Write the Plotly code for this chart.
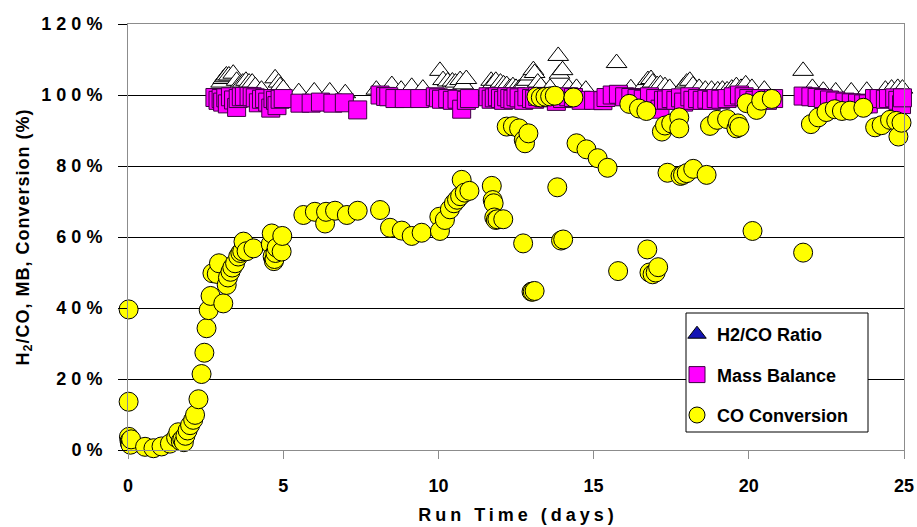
import plotly.graph_objects as go

# ---------------- data ----------------
co_days = [0.02, 0.02, 0.03, 0.05, 0.06, 0.08, 0.10,
           0.55, 0.82, 1.08, 1.35, 1.55, 1.62, 1.70, 1.75, 1.80, 1.85, 1.92, 2.00,
           2.10, 2.16, 2.27, 2.37, 2.46, 2.53, 2.60, 2.66, 2.72, 2.86, 2.93,
           3.07, 3.18, 3.22, 3.30, 3.36, 3.45, 3.55, 3.62, 3.68, 3.72, 3.82, 4.04,
           4.60, 4.63, 4.66, 4.70, 4.72, 4.75, 4.79, 4.95, 4.97,
           5.65, 6.02, 6.35, 6.38, 6.67, 7.05, 7.40, 8.12, 8.44, 8.82, 9.14, 9.46,
           10.03, 10.05, 10.21, 10.37, 10.50, 10.60, 10.70, 10.75, 10.85, 11.00,
           11.72, 11.75, 11.78, 11.80, 11.85, 11.90, 12.09,
           12.20, 12.40, 12.60, 12.75, 12.79, 12.90, 12.73, 13.00, 13.04, 13.10,
           13.16, 13.30, 13.45, 13.60, 13.75, 14.35,
           13.83, 13.95, 14.02, 14.45, 14.77, 15.13, 15.45, 15.79,
           16.15, 16.46, 16.70, 16.73, 16.80, 16.90, 17.00, 17.08,
           17.20, 17.30, 17.50, 17.76, 17.76, 17.38, 17.80, 17.88, 18.00, 18.21, 18.64,
           18.75, 18.98, 19.30, 19.60, 19.65, 19.70, 19.93, 20.12, 20.25, 20.40, 20.74, 21.75,
           22.00, 22.24, 22.50, 22.77, 23.00, 23.26, 23.69, 24.07, 24.28, 24.55, 24.75, 24.82, 24.92]
co_pct = [39.6, 13.6, 3.7, 2.5, 2.0, 1.5, 3.0,
          0.9, 0.5, 1.0, 1.8, 3.5, 5.0, 2.5, 3.0, 2.2, 4.0, 5.5, 7.0,
          8.5, 9.9, 14.3, 21.4, 27.4, 34.3, 39.4, 43.4, 49.8, 49.6, 52.6,
          41.3, 46.5, 48.6, 50.2, 51.4, 52.6, 54.5, 55.5, 56.0, 58.7, 56.0, 56.8,
          58.0, 61.0, 54.5, 53.2, 53.8, 55.5, 57.0, 55.9, 60.3,
          66.2, 67.1, 63.8, 67.1, 67.4, 66.2, 67.4, 67.6, 62.6, 61.8, 60.3, 61.2,
          65.7, 61.7, 64.8, 67.8, 69.5, 70.5, 71.5, 76.1, 72.5, 73.0,
          74.4, 70.4, 69.5, 65.5, 64.8, 65.0, 65.0,
          91.1, 91.2, 90.6, 87.3, 86.4, 89.2, 58.2, 44.6, 44.6, 44.8,
          99.5, 99.3, 99.5, 99.6, 99.8, 99.3,
          74.0, 59.0, 59.3, 86.4, 84.7, 82.2, 79.5, 50.4,
          97.5, 96.2, 95.5, 56.5, 50.0, 49.5, 50.0, 51.5,
          89.7, 91.4, 92.0, 93.7, 90.6, 78.1, 77.2, 77.5, 78.0, 79.2, 77.5,
          91.3, 93.0, 93.2, 90.6, 92.0, 91.0, 97.7, 61.7, 95.8, 98.4, 98.9, 55.6,
          91.8, 93.7, 95.2, 96.0, 95.5, 95.6, 96.4, 90.9, 91.5, 93.0, 92.7, 88.3, 92.2]

mb_days = [2.80, 2.90, 3.00, 3.05, 3.15, 3.20, 3.30, 3.40, 3.50, 3.55, 3.65, 3.75, 3.90,
           4.00, 4.10, 4.20, 4.30, 4.40, 4.50, 4.60, 4.67, 4.75, 4.80, 4.90, 5.00,
           5.54, 5.90, 6.20, 6.60, 6.97, 7.40,
           8.12, 8.30, 8.40, 8.60, 8.90, 9.40, 9.90, 10.00, 10.10, 10.30, 10.45, 10.60,
           10.75, 10.90, 11.00, 11.60, 11.70, 11.80, 11.90, 12.00, 12.10, 12.20, 12.30,
           12.40, 12.50, 12.60, 12.75, 12.85, 13.00, 13.10, 13.20, 13.40, 13.60, 13.80,
           14.00, 14.20, 14.35, 14.60, 15.00, 15.30, 15.40, 15.60, 15.80, 16.00, 16.20,
           16.40, 16.60, 16.80, 17.00, 17.14, 17.25, 17.35, 17.50, 17.65, 17.80, 17.90,
           18.10, 18.20, 18.35, 18.50, 18.65, 18.80, 18.95, 19.10, 19.30, 19.50, 19.70,
           19.85, 20.00, 20.20, 20.40, 20.60, 20.80,
           21.75, 22.00, 22.20, 22.40, 22.60, 22.80, 23.10, 23.30, 23.50, 23.70, 23.85,
           24.05, 24.20, 24.40, 24.50, 24.70, 24.80, 24.92, 24.95]
mb_pct = [99.3, 98.5, 99.0, 98.0, 99.2, 97.5, 99.5, 98.6, 96.5, 99.0, 99.5, 99.6, 99.6,
          99.5, 99.2, 97.8, 98.8, 99.0, 98.0, 96.3, 99.0, 98.5, 97.0, 98.8, 99.0,
          97.7, 97.7, 98.0, 97.7, 97.8, 95.8,
          100.0, 99.6, 99.5, 99.0, 99.0, 99.0, 99.5, 99.2, 98.8, 99.0, 98.5, 98.8,
          96.0, 98.5, 99.0, 99.5, 98.8, 99.2, 99.5, 99.0, 98.5, 99.5, 99.0,
          98.8, 99.5, 99.2, 98.5, 99.5, 99.0, 98.8, 99.6, 99.2, 99.5, 98.2,
          99.0, 99.5, 99.3, 98.5, 98.5, 98.4, 99.3, 100.0, 100.2, 99.5, 99.3,
          99.0, 98.8, 99.5, 99.0, 96.0, 98.5, 98.6, 99.0, 98.5, 99.2, 98.0,
          99.5, 98.5, 99.0, 98.5, 98.8, 98.5, 99.0, 98.8, 99.0, 99.5, 100.0,
          99.5, 99.0, 98.5, 99.0, 98.5, 99.0,
          99.7, 99.5, 99.3, 99.0, 98.6, 98.3, 98.0, 97.8, 97.7, 97.5, 97.5,
          99.0, 99.0, 98.8, 99.0, 99.2, 98.5, 97.3, 99.2]

h2_days = [3.00, 3.07, 3.12, 3.17, 3.25, 3.39, 3.50, 3.60, 3.70, 3.80, 3.90, 4.00, 4.10,
           4.30, 4.74, 4.85, 4.90, 5.00, 5.50, 6.00, 6.50, 7.00,
           8.00, 8.50, 8.80, 9.14, 9.50, 10.05, 10.15, 10.30, 10.45, 10.55, 10.70, 10.80, 10.90,
           11.70, 11.75, 11.85, 11.95, 12.00, 12.10, 12.20, 12.30, 12.40, 12.50, 12.60,
           12.75, 12.85, 12.95, 13.06, 13.10, 13.20, 13.30, 13.60, 13.86, 13.90,
           14.00, 14.20, 14.45, 14.75, 15.74, 16.20, 16.60, 16.75, 16.85, 16.90, 17.05,
           17.15, 17.30, 17.45, 17.90, 18.00, 18.10, 18.20, 18.40,
           18.60, 18.80, 19.00, 19.15, 19.30, 19.45, 19.60, 19.75, 19.90, 20.10, 20.50,
           21.75, 22.05, 22.40, 22.80, 23.30, 23.80, 24.40, 24.60, 24.80, 24.95]
h2_pct = [103.5, 104.5, 105.0, 105.5, 105.5, 106.0, 104.0, 103.0, 103.5, 104.0, 103.5,
          103.5, 102.5, 101.5, 104.7, 103.5, 102.5, 101.8, 100.8, 101.0, 101.0, 100.5,
          101.5, 102.8, 101.5, 102.3, 101.8, 106.8, 104.2, 103.8, 103.8, 103.5, 104.2, 103.0, 104.5,
          104.0, 103.2, 104.0, 102.8, 103.5, 103.0, 102.8, 102.0, 102.5, 102.0, 101.8,
          103.0, 104.0, 105.5, 107.0, 106.2, 103.5, 102.5, 102.0, 111.0, 106.0,
          107.0, 102.0, 102.0, 101.5, 109.0, 101.9, 102.5, 104.2, 104.5, 103.5, 102.8,
          103.0, 102.5, 102.0, 102.5, 103.5, 104.0, 102.7, 102.0,
          101.5, 101.5, 101.3, 101.5, 101.3, 101.8, 102.5, 102.0, 103.0, 102.0, 101.5,
          106.8, 102.0, 101.2, 101.0, 101.0, 101.2, 101.5, 101.8, 102.0, 101.8]

x_ticks = [0, 5, 10, 15, 20, 25]
y_ticks = [0, 20, 40, 60, 80, 100, 120]
y_tick_labels = ["0%", "20%", "40%", "60%", "80%", "100%", "120%"]

series_names = ["H2/CO Ratio", "Mass Balance", "CO Conversion"]

# ---------------- figure ----------------
FONT = "Arial, 'Liberation Sans', Helvetica, sans-serif"

fig = go.Figure()

# legend-only entry for the ratio series (blue symbol in the legend)
fig.add_trace(go.Scatter(
    x=[None], y=[None], mode="markers", name=series_names[0], legendgroup="g1",
    marker=dict(symbol="triangle-up", size=16, color="#1414B4",
                line=dict(color="#000000", width=1))))
fig.add_trace(go.Scatter(
    x=h2_days, y=h2_pct, mode="markers", name=series_names[0], legendgroup="g1",
    showlegend=False, cliponaxis=False,
    marker=dict(symbol="triangle-up", size=18, color="#FFFFFF",
                line=dict(color="#000000", width=1))))
fig.add_trace(go.Scatter(
    x=mb_days, y=mb_pct, mode="markers", name=series_names[1], legendgroup="g2",
    cliponaxis=False,
    marker=dict(symbol="square", size=18, color="#FF00FF",
                line=dict(color="#3A0040", width=1))))
fig.add_trace(go.Scatter(
    x=co_days, y=co_pct, mode="markers", name=series_names[2], legendgroup="g3",
    cliponaxis=False,
    marker=dict(symbol="circle", size=19, color="#FFFF00",
                line=dict(color="#000000", width=1))))

L, R, T, B = 128, 13, 24, 77
W, H = 917, 527
pw, ph = W - L - R, H - T - B


def px_x(p):
    return (p - L) / pw


def px_y(p):
    return (H - B - p) / ph


fig.update_layout(
    width=W, height=H, template="none",
    margin=dict(l=L, r=R, t=T, b=B, pad=0),
    paper_bgcolor="#FFFFFF", plot_bgcolor="#FFFFFF",
    font=dict(family=FONT, size=18, color="#000000", weight="bold"),
    showlegend=True,
    legend=dict(x=px_x(677), y=px_y(316), xanchor="left", yanchor="top",
                bgcolor="rgba(0,0,0,0)", borderwidth=0, tracegroupgap=14,
                font=dict(family=FONT, size=18, color="#000000", weight="bold")),
    xaxis=dict(range=[0, 25], tickvals=x_ticks, showgrid=False, zeroline=False,
               showline=True, linecolor="#8C8C8C", linewidth=1, mirror=True,
               ticks="outside", ticklen=8, tickcolor="#8C8C8C", tickwidth=1,
               ticklabelstandoff=11, automargin=False,
               tickfont=dict(family=FONT, size=18, weight="bold"),
               title=dict(text="Run Time (days)", standoff=13,
                          font=dict(family=FONT, size=18, weight="bold"))),
    yaxis=dict(range=[0, 120], tickvals=y_ticks, ticktext=y_tick_labels,
               showgrid=True, gridcolor="#000000", gridwidth=1, zeroline=False,
               showline=True, linecolor="#8C8C8C", linewidth=1, mirror=True,
               ticks="outside", ticklen=9, tickcolor="#000000", tickwidth=1,
               ticklabelstandoff=12, automargin=False,
               tickfont=dict(family=FONT, size=18, weight="bold"),
               title=dict(text="H<sub>2</sub>/CO, MB, Conversion (%)", standoff=22,
                          font=dict(family=FONT, size=18, weight="bold"))),
    shapes=[dict(type="rect", xref="paper", yref="paper",
                 x0=px_x(686), x1=px_x(868), y0=px_y(432), y1=px_y(313),
                 line=dict(color="#000000", width=1), fillcolor="#FFFFFF",
                 layer="above")],
)

post = """
var gd = document.getElementById('{plot_id}');
function spaceText(){
  gd.querySelectorAll('.ytick text').forEach(function(t){ t.style.letterSpacing = '5px'; t.setAttribute('dx', '5'); });
  gd.querySelectorAll('.g-xtitle text').forEach(function(t){ t.style.letterSpacing = '4px'; t.setAttribute('dx', '2'); });
  gd.querySelectorAll('.g-ytitle text').forEach(function(t){ t.style.letterSpacing = '1px'; });
}
spaceText();
gd.on('plotly_afterplot', spaceText);
"""

fig.write_html("out.html", post_script=post, config={"displayModeBar": False, "responsive": False})
